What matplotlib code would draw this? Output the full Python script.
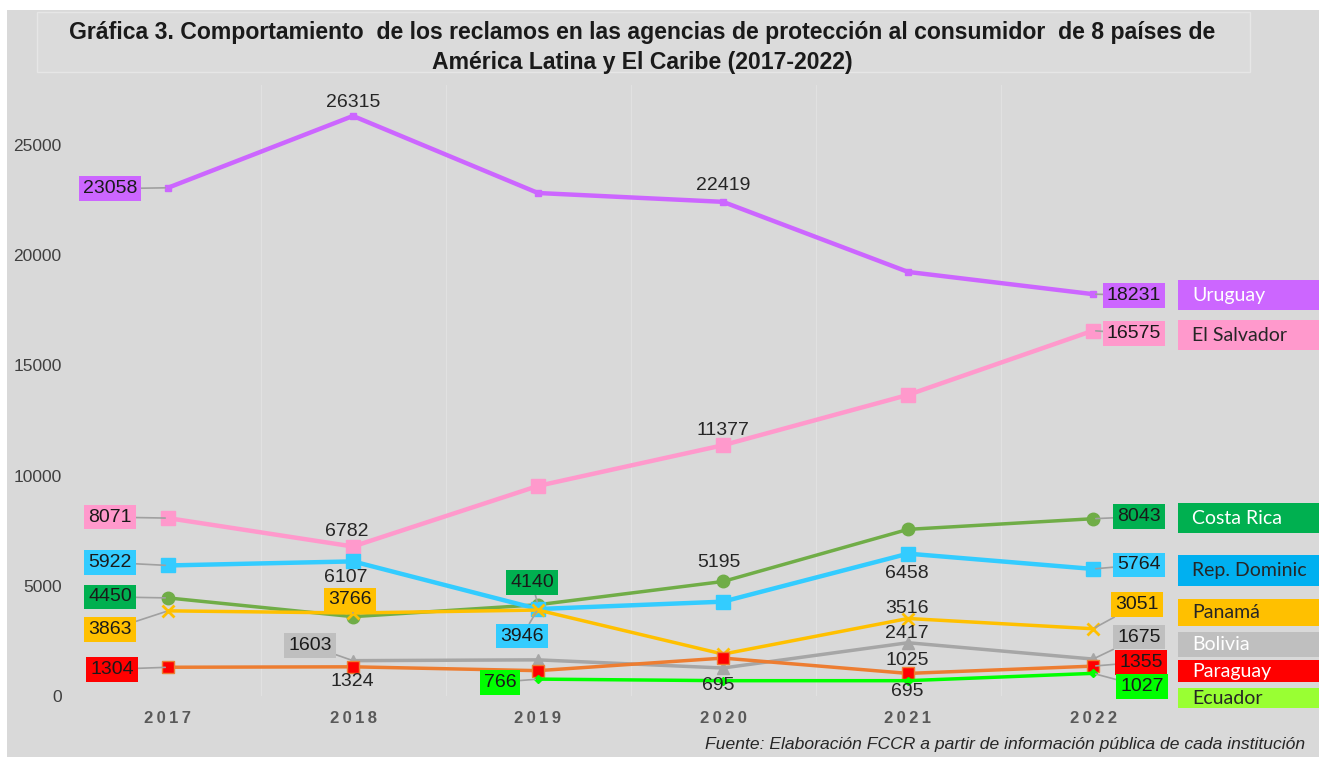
import matplotlib.pyplot as plt
import numpy as np
from matplotlib.patches import Rectangle

# datos (reclamos por año)
years = ['2017', '2018', '2019', '2020', '2021', '2022']
nan = np.nan
uruguay = [23058, 26315, 22820, 22419, 19240, 18231]
el_salvador = [8071, 6782, 9530, 11377, 13660, 16575]
costa_rica = [4450, 3600, 4140, 5195, 7560, 8043]
rep_dominicana = [5922, 6107, 3946, 4280, 6458, 5764]
panama = [3863, 3766, 3900, 1900, 3516, 3051]
bolivia = [nan, 1603, 1640, 1270, 2417, 1675]
paraguay = [1304, 1324, 1150, 1720, 1025, 1355]
ecuador = [nan, nan, 766, 695, 695, 1027]

legend_names = ['Uruguay', 'El Salvador', 'Costa Rica', 'Rep. Dominic',
                'Panamá', 'Bolivia', 'Paraguay', 'Ecuador']

W, H = 1319, 757
fig = plt.figure(figsize=(W / 100, H / 100), dpi=100, facecolor='white')
plt.rcParams['font.family'] = ['Liberation Sans', 'DejaVu Sans']

# fondo gris
fig.patches.append(Rectangle((7 / W, 0), 1, 1 - 10 / H, transform=fig.transFigure,
                             facecolor='#d9d9d9', edgecolor='none', zorder=-10))
# caja del titulo
fig.patches.append(Rectangle((37 / W, 1 - 72 / H), 1213 / W, 60 / H, transform=fig.transFigure,
                             facecolor='#dbdbdb', edgecolor='#e6e6e6', lw=1, zorder=-9))
fig.text(642 / W, 1 - 33 / H,
         'Gráfica 3. Comportamiento  de los reclamos en las agencias de protección al consumidor  de 8 países de',
         ha='center', va='center', fontsize=16.6, fontweight='bold', color='#1a1a1a')
fig.text(642 / W, 1 - 63 / H, 'América Latina y El Caribe (2017-2022)',
         ha='center', va='center', fontsize=16.6, fontweight='bold', color='#1a1a1a')

ax = fig.add_axes([75.5 / W, (H - 696) / H, 1110 / W, (696 - 85) / H])
ax.set_facecolor('none')
x = np.arange(len(years))

series = [
    # datos, color linea, lw, marcador, tamaño, relleno, borde, color caja
    ('Uruguay', uruguay, '#cc66ff', 3.2, 's', 4, '#cc66ff', '#cc66ff', '#cc66ff'),
    ('El Salvador', el_salvador, '#ff99cc', 3.2, 's', 10, '#ff99cc', '#ff99cc', '#ff99cc'),
    ('Costa Rica', costa_rica, '#70ad47', 2.5, 'o', 9, '#70ad47', '#70ad47', '#00b050'),
    ('Rep. Dominicana', rep_dominicana, '#33ccff', 3.2, 's', 10, '#33ccff', '#33ccff', '#33ccff'),
    ('Panamá', panama, '#ffc000', 2.5, 'x', 9, '#ffc000', '#ffc000', '#ffc000'),
    ('Bolivia', bolivia, '#a6a6a6', 2.5, '^', 8, '#a6a6a6', '#a6a6a6', '#bfbfbf'),
    ('Paraguay', paraguay, '#ed7d31', 2.5, 's', 8, '#ff0000', '#ed7d31', '#ff0000'),
    ('Ecuador', ecuador, '#00ff00', 2.5, 'D', 4, '#00ff00', '#00ff00', '#00ff00'),
]

# etiquetas: (indice, dx px, dy px, con caja)
label_specs = {
    'Uruguay': [(0, -58, -1, True), (1, 0, 13, False), (3, 0, 16, False), (5, 41, -1, True)],
    'El Salvador': [(0, -58, 1, True), (1, -6, 15, False), (3, 0, 15, False), (5, 41, -3, True)],
    'Costa Rica': [(0, -58, 1, True), (2, -6, 22, True), (3, -4, 19, False), (5, 46, 2, True)],
    'Rep. Dominicana': [(0, -58, 3, True), (1, -7, -16, False), (2, -16, -27, True),
                        (4, -1, -20, False), (5, 46, 4, True)],
    'Panamá': [(0, -58, -19, True), (1, -3, 13, True), (4, -1, 10, False), (5, 44, 24, True)],
    'Bolivia': [(1, -43, 15, True), (4, -1, 9, False), (5, 46, 22, True)],
    'Paraguay': [(0, -56, -2, True), (1, -1, -15, False), (4, -1, 13, False), (5, 48, 4, True)],
    'Ecuador': [(2, -38, -3, True), (3, -5, -5, False), (4, -1, -11, False), (5, 49, -13, True)],
}

for name, vals, lc, lw, mk, ms, mfc, mec, boxc in series:
    ax.plot(x, vals, color=lc, lw=lw, marker=mk, markersize=ms, markerfacecolor=mfc,
            markeredgecolor=mec, markeredgewidth=2 if mk == 'x' else 1, zorder=3)
    for i, dx, dy, boxed in label_specs[name]:
        txt = f'{vals[i]:.0f}'
        if boxed:
            ax.annotate(txt, (x[i], vals[i]), xytext=(dx, dy), textcoords='offset pixels',
                        ha='center', va='center', fontsize=14, color='#1a1a1a',
                        bbox=dict(boxstyle='square,pad=0.2', facecolor=boxc, edgecolor='none'),
                        arrowprops=dict(arrowstyle='-', color='#a0a0a0', lw=1.2,
                                        shrinkA=0, shrinkB=2),
                        annotation_clip=False, zorder=5)
        else:
            ax.annotate(txt, (x[i], vals[i]), xytext=(dx, dy), textcoords='offset pixels',
                        ha='center', va='center', fontsize=14, color='#262626',
                        annotation_clip=False, zorder=5)

for b in np.arange(0.5, 5.5, 1):
    ax.axvline(b, color='#e1e1e1', lw=0.8, zorder=0)

ax.set_xlim(-0.5, 5.5)
ax.set_ylim(0, 27720)
ax.set_xticks(x)
ax.set_xticklabels(['\u2009'.join(y) for y in years], fontsize=12, fontweight='bold',
                   color='#595959')
ax.set_yticks([0, 5000, 10000, 15000, 20000, 25000])
ax.tick_params(axis='y', length=0, pad=10, labelsize=12.5, labelcolor='#404040')
ax.tick_params(axis='x', length=0, pad=11)
for s in ax.spines.values():
    s.set_visible(False)

# leyenda a la derecha
legend_boxes = [
    ('#cc66ff', 'white', 280, 310),
    ('#ff99cc', '#262626', 320, 350),
    ('#00b050', 'white', 503, 533),
    ('#00b0f0', '#262626', 555, 586),
    ('#ffc000', '#262626', 599, 626),
    ('#bfbfbf', 'white', 632, 657),
    ('#ff0000', 'white', 660, 682),
    ('#99ff33', '#262626', 688, 708),
]
for name, (fc, tc, y0, y1) in zip(legend_names, legend_boxes):
    fig.patches.append(Rectangle((1178 / W, 1 - y1 / H), 150 / W, (y1 - y0) / H,
                                 transform=fig.transFigure, facecolor=fc, edgecolor='none'))
    fig.text(1192 / W, 1 - (y0 + y1) / 2 / H, name, ha='left', va='center',
             fontsize=14, color=tc, family=['Lato', 'DejaVu Sans'])

fig.text(1305 / W, 1 - 745 / H,
         'Fuente: Elaboración FCCR a partir de información pública de cada institución',
         ha='right', va='center', fontsize=12.6, style='italic', color='#262626')

fig.savefig('out.png', dpi=100, facecolor=fig.get_facecolor())
